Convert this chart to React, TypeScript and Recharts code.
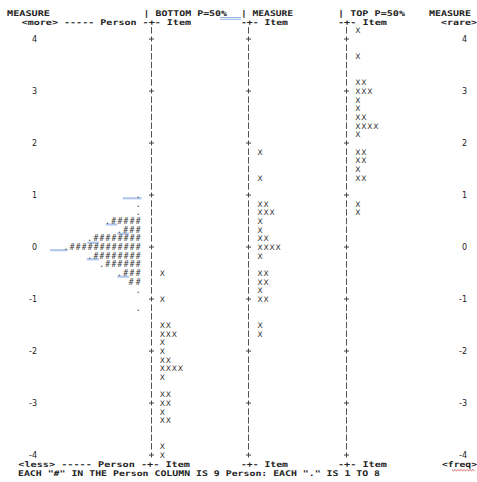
import { ScatterChart, Scatter, XAxis, YAxis, Customized } from 'recharts'

const MONO = '"DejaVu Sans Mono", monospace'
const SANS = '"DejaVu Sans", Verdana, sans-serif'

// logit ticks on both sides
const measureTicks = [-4, -3, -2, -1, 0, 1, 2, 3, 4]

// Person column: row measure, number of "#", leading "."
const personMeasures = [1, 0.83, 0.67, 0.5, 0.33, 0.17, 0, -0.17, -0.33, -0.5, -0.67, -0.83, -1.17]
const personHashes = [0, 0, 0, 5, 3, 8, 12, 8, 6, 3, 2, 0, 0]
const personDots = [true, true, true, true, true, true, true, true, true, true, false, true, true]

// BOTTOM P=50% item column
const bottomMeasures = [-0.5, -1, -1.5, -1.67, -1.83, -2, -2.17, -2.33, -2.5, -2.83, -3, -3.17, -3.33, -3.83, -4]
const bottomCounts = [1, 1, 2, 3, 1, 1, 2, 4, 1, 2, 2, 1, 2, 1, 1]

// MEASURE item column
const middleMeasures = [1.83, 1.33, 0.83, 0.67, 0.5, 0.33, 0.17, 0, -0.17, -0.5, -0.67, -0.83, -1, -1.5, -1.67]
const middleCounts = [1, 1, 2, 3, 1, 1, 2, 4, 1, 2, 2, 1, 2, 1, 1]

// TOP P=50% item column
const topMeasures = [4.17, 3.67, 3.17, 3, 2.83, 2.67, 2.5, 2.33, 2.17, 1.83, 1.67, 1.5, 1.33, 0.83, 0.67]
const topCounts = [1, 1, 2, 3, 1, 1, 2, 4, 1, 2, 2, 1, 2, 1, 1]

// text rows of the "|" rules, six per logit
const ruleRows = Array.from({ length: 50 }, (_, i) => 4 + 1 / 6 - i / 6)

const personData = personMeasures.map((m, i) => ({ x: 1, y: m, n: personHashes[i], dot: personDots[i] }))
const bottomData = bottomMeasures.map((m, i) => ({ x: 1, y: m, n: bottomCounts[i] }))
const middleData = middleMeasures.map((m, i) => ({ x: 2, y: m, n: middleCounts[i] }))
const topData = topMeasures.map((m, i) => ({ x: 3, y: m, n: topCounts[i] }))

const RuleShape = (props: any) => {
  const { cx, cy, payload } = props
  const x = Math.round(cx) + 0.5
  const isTick = Math.abs(payload.y - Math.round(payload.y)) < 1e-6
  if (isTick) {
    return (
      <g stroke="#444" strokeWidth={1}>
        <line x1={x - 2.5} x2={x + 2.5} y1={cy} y2={cy} />
        <line x1={x} x2={x} y1={cy - 2.5} y2={cy + 2.5} />
      </g>
    )
  }
  return <line x1={x} x2={x} y1={cy - 3.3} y2={cy + 3.3} stroke="#555" strokeWidth={1} />
}

const PersonShape = (props: any) => {
  const { cx, cy, payload } = props
  const s = (payload.dot ? '.' : '') + '#'.repeat(payload.n)
  return (
    <text x={cx - 10} y={cy + 2.8} textAnchor="end" fontFamily={MONO} fontSize={8}
      textLength={s.length * 5.93} lengthAdjust="spacing" fill="#3a3a3a">
      {s}
    </text>
  )
}

const ItemShape = (props: any) => {
  const { cx, cy, payload } = props
  return (
    <text x={cx + 9} y={cy + 2.8} fontFamily={SANS} fontSize={7.6} letterSpacing={0.8} fill="#333">
      {'X'.repeat(payload.n)}
    </text>
  )
}

const LeftTick = (props: any) => (
  <text x={props.x} y={props.y + 3} textAnchor="end" fontFamily={SANS} fontSize={8} fill="#222">
    {props.payload.value}
  </text>
)

const RightTick = (props: any) => (
  <text x={props.x + 17} y={props.y + 3} textAnchor="end" fontFamily={SANS} fontSize={8} fill="#222">
    {props.payload.value}
  </text>
)

function Overlay() {
  const t = (s: string, x0: number, x1: number, y: number) => (
    <text key={s + x0 + y} x={x0} y={y} textLength={x1 - x0} lengthAdjust="spacingAndGlyphs"
      fontFamily={MONO} fontWeight="bold" fontSize={7.8} fill="#222">
      {s}
    </text>
  )
  const hl = (x0: number, x1: number, y: number) => (
    <rect key={'h' + x0 + y} x={x0} y={y} width={x1 - x0} height={2.2} fill="#b3c8ee" />
  )
  return (
    <g>
      {t('MEASURE', 7, 50, 16.3)}
      {t('| BOTTOM P=50%', 143.5, 227, 16.3)}
      {t('| MEASURE', 241, 293, 16.3)}
      {t('| TOP P=50%', 338, 405, 16.3)}
      {t('MEASURE', 429, 471, 16.3)}
      {t('<more> ----- Person -+- Item', 21.7, 191, 25.3)}
      {t('-+- Item', 241, 288, 25.3)}
      {t('-+- Item', 338, 387, 25.3)}
      {t('<rare>', 441, 477, 25.3)}
      {t('<less> ----- Person -+- Item', 18.3, 190, 467.4)}
      {t('-+- Item', 241, 288, 467.4)}
      {t('-+- Item', 338, 387, 467.4)}
      {t('<freq>', 442, 477, 467.4)}
      {t('EACH "#" IN THE Person COLUMN IS 9 Person: EACH "." IS 1 TO 8', 18, 380, 476)}
      <line x1={220} x2={241} y1={17.5} y2={17.5} stroke="#7d9ee0" strokeWidth={0.8} />
      <line x1={220} x2={241} y1={19.3} y2={19.3} stroke="#7d9ee0" strokeWidth={0.8} />
      <path d="M452 469.6 l1.5 1.2 l1.5 -1.2 l1.5 1.2 l1.5 -1.2 l1.5 1.2 l1.5 -1.2 l1.5 1.2 l1.5 -1.2 l1.5 1.2 l1.5 -1.2 l1.5 1.2 l1.5 -1.2 l1.5 1.2 l1.5 -1.2 l1.5 1.2"
        fill="none" stroke="#d23c3c" strokeWidth={0.8} />
      {hl(122.7, 141.7, 197.2)}
      {hl(105.7, 117.3, 223.4)}
      {hl(117.3, 129.3, 232.6)}
      {hl(87.3, 99, 241.6)}
      {hl(50, 67.7, 249.1)}
      {hl(86.7, 99, 258.2)}
      {hl(117.3, 129.3, 275.6)}
    </g>
  )
}

export default function App() {
  return (
    <div style={{ position: 'absolute', left: 0, top: 0, background: '#fff' }}>
      <ScatterChart width={477} height={482} margin={{ top: 7.8, right: 0, bottom: 1, left: 0 }}>
        <XAxis type="number" dataKey="x" domain={[-0.132, 4.03]} hide allowDataOverflow />
        <YAxis type="number" dataKey="y" domain={[-4.5, 4.6]} ticks={measureTicks} interval={0}
          width={40} axisLine={false} tickLine={false} tickSize={0} tickMargin={3}
          tick={LeftTick} allowDataOverflow />
        <YAxis yAxisId="right" orientation="right" type="number" domain={[-4.5, 4.6]}
          ticks={measureTicks} interval={0} width={30} axisLine={false} tickLine={false}
          tickSize={0} tickMargin={3} tick={RightTick} allowDataOverflow />
        {[1, 2, 3].map((col) => (
          <Scatter key={'rule' + col} data={ruleRows.map((y) => ({ x: col, y }))}
            shape={RuleShape} isAnimationActive={false} />
        ))}
        <Scatter data={personData} shape={PersonShape} isAnimationActive={false} />
        <Scatter data={bottomData} shape={ItemShape} isAnimationActive={false} />
        <Scatter data={middleData} shape={ItemShape} isAnimationActive={false} />
        <Scatter data={topData} shape={ItemShape} isAnimationActive={false} />
        <Customized component={Overlay} />
      </ScatterChart>
    </div>
  )
}
